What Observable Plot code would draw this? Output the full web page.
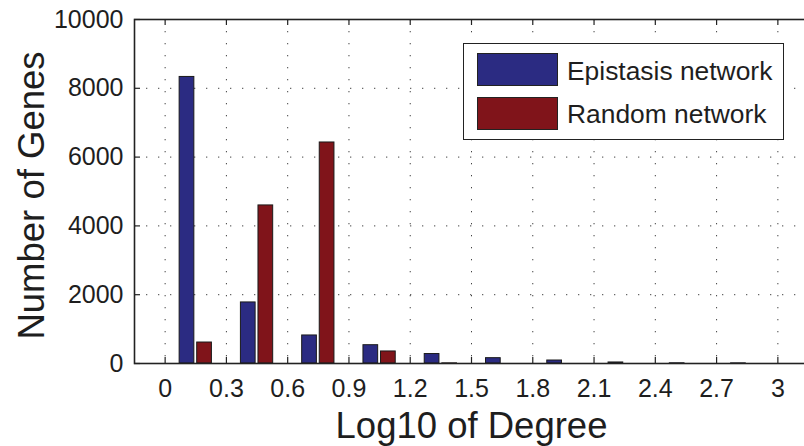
<!DOCTYPE html>
<html>
<head>
<meta charset="utf-8">
<script src="https://cdn.jsdelivr.net/npm/d3@7"></script>
<script src="https://cdn.jsdelivr.net/npm/@observablehq/plot@0.6"></script>
<style>
  html, body { margin: 0; padding: 0; background: #fff; }
  #wrap { position: relative; width: 804px; height: 446px; overflow: hidden; font-family: "Liberation Sans", Arial, Helvetica, sans-serif; color: #1e1e1e; }
  #legend { position: absolute; left: 463px; top: 43px; width: 319px; height: 95px; border: 1.5px solid #222; background: #fff; }
  .sw { position: absolute; left: 13px; width: 79px; height: 31px; border: 1px solid #222; }
  .lt { position: absolute; left: 103px; font-size: 26.4px; line-height: normal; white-space: nowrap; }
</style>
</head>
<body>
<div id="wrap"></div>
<script>
// Bin centres (log10 of degree) and gene counts per series
const binCenters = [0.15, 0.45, 0.75, 1.05, 1.35, 1.65, 1.95, 2.25, 2.55, 2.85];
const epistasis  = [8330, 1775, 815, 532, 275, 155, 87, 30, 6, 4];
const randomNet  = [610, 4595, 6425, 350, 4, 0, 0, 0, 0, 0];
const seriesNames  = ["Epistasis network", "Random network"];
const seriesColors = ["#2b2b82", "#80141a"];
const xTickLabels = ["0", "0.3", "0.6", "0.9", "1.2", "1.5", "1.8", "2.1", "2.4", "2.7", "3"];
const yTicks = [0, 2000, 4000, 6000, 8000, 10000];
const xLabel = "Log10 of Degree";
const yLabel = "Number of Genes";

const xTicks = xTickLabels.map(Number);
const barW = 0.072, gap = 0.007;
const rows = binCenters.flatMap((c, i) => [
  {c, s: 0, v: epistasis[i]},
  {c, s: 1, v: randomNet[i]}
]);

const font = '"Liberation Sans", Arial, Helvetica, sans-serif';
const gridStyle = {stroke: "#222", strokeOpacity: 0.85, strokeDasharray: "1.3,10.7", strokeWidth: 1};
const frameH = 446 - 19 - 83;   // inner plot height in px
const frameW = 804 + 4 - 134;   // inner plot width in px
const tickLen = 6;

const chart = Plot.plot({
  width: 804,
  height: 446,
  marginLeft: 134,
  marginRight: -4,
  marginTop: 19,
  marginBottom: 83,
  style: {fontFamily: font, background: "#fff", color: "#1e1e1e"},
  x: {domain: [-0.15, 3.15], label: null, axis: null},
  y: {domain: [0, 10000], label: null, axis: null},
  marks: [
    Plot.gridX(xTicks, gridStyle),
    Plot.gridY(yTicks, gridStyle),
    Plot.rectY(rows, {
      x1: d => d.s === 0 ? d.c - gap - barW : d.c + gap,
      x2: d => d.s === 0 ? d.c - gap : d.c + gap + barW,
      y: "v",
      fill: d => seriesColors[d.s],
      stroke: "#1a1a1a",
      strokeWidth: 1
    }),
    // inward tick marks (bottom, top, left)
    Plot.tickX(xTicks, {x: d => d, insetTop: frameH - tickLen, stroke: "#222", strokeWidth: 1.2}),
    Plot.tickX(xTicks, {x: d => d, insetBottom: frameH - tickLen, stroke: "#222", strokeWidth: 1.2}),
    Plot.tickY(yTicks, {y: d => d, insetRight: frameW - tickLen, stroke: "#222", strokeWidth: 1.2}),
    Plot.frame({stroke: "#222", strokeWidth: 1.6}),
    // tick labels
    Plot.text(xTickLabels, {x: d => Number(d), text: d => d, frameAnchor: "bottom", lineAnchor: "top", dy: 15.5, fontSize: 25, fill: "#1e1e1e"}),
    Plot.text(yTicks, {y: d => d, text: d => String(d), frameAnchor: "left", textAnchor: "end", dx: -11, fontSize: 25, fill: "#1e1e1e"}),
    // axis titles
    Plot.text([xLabel], {frameAnchor: "bottom", textAnchor: "middle", lineAnchor: "bottom", dy: 74, fontSize: 36.5, text: d => d, fill: "#1e1e1e"}),
    Plot.text([yLabel], {frameAnchor: "left", textAnchor: "middle", lineAnchor: "bottom", rotate: -90, dx: -91, dy: 4, fontSize: 36.5, text: d => d, fill: "#1e1e1e"})
  ]
});

const wrap = document.getElementById("wrap");
wrap.appendChild(chart);

const legend = document.createElement("div");
legend.id = "legend";
const swTops = [9, 53];
const txtTops = [12, 55];
seriesNames.forEach((name, i) => {
  const sw = document.createElement("div");
  sw.className = "sw";
  sw.style.top = swTops[i] + "px";
  sw.style.background = seriesColors[i];
  legend.appendChild(sw);
  const t = document.createElement("div");
  t.className = "lt";
  t.style.top = txtTops[i] + "px";
  t.textContent = name;
  legend.appendChild(t);
});
wrap.appendChild(legend);
</script>
</body>
</html>
